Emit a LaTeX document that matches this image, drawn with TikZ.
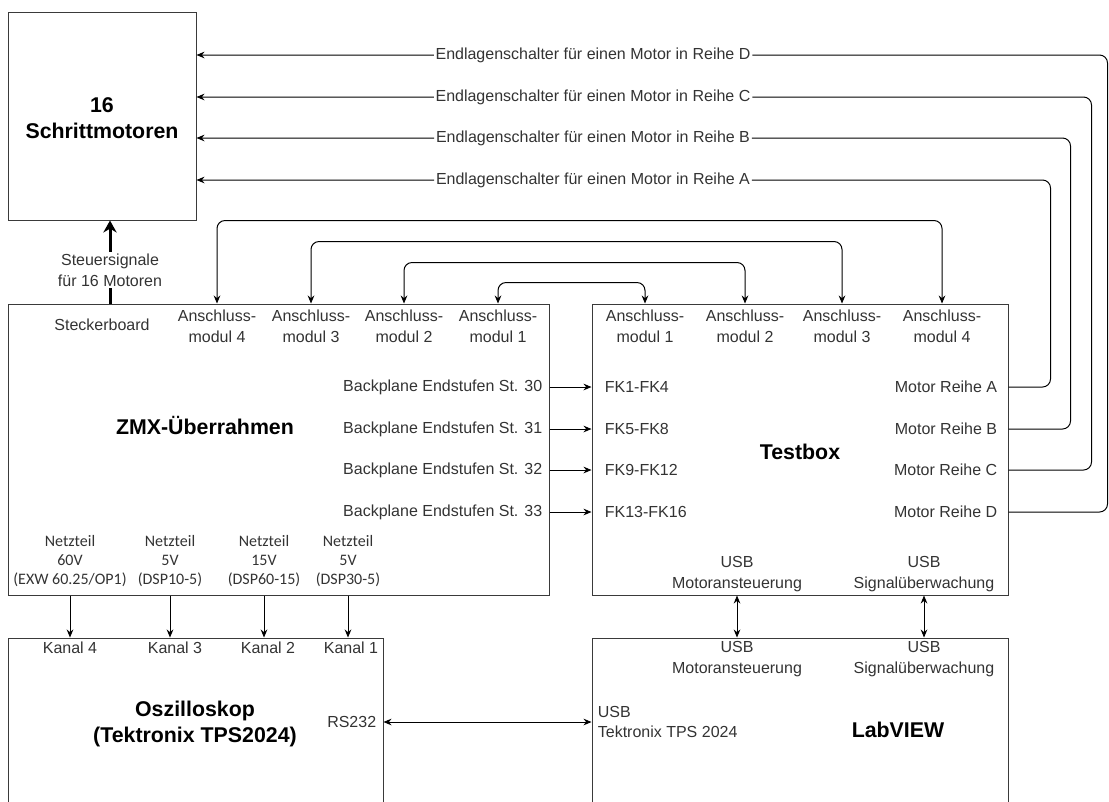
\documentclass[tikz,border=0pt]{standalone}
\usepackage{fontspec}
\setmainfont{Liberation Sans}
\newfontfamily\calibri{Carlito}
\usetikzlibrary{arrows.meta,fit}
\definecolor{txt}{HTML}{333333}
\definecolor{frame}{HTML}{3A3A3A}

\begin{document}
\begin{tikzpicture}[x=0.75pt, y=-0.75pt, >={Stealth[length=6pt,width=5pt]}, line width=0.75pt,
    box/.style={draw=frame, inner sep=0pt},
    lbl/.style={font=\fontsize{12}{15.5}\selectfont, text=txt, inner sep=1pt, align=center},
    nlbl/.style={font=\calibri\fontsize{12}{14.3}\selectfont, text=txt, inner sep=1pt, align=center},
    title/.style={font=\fontsize{16}{19.5}\selectfont\bfseries, inner sep=1pt, align=center},
    conn/.style={draw=black, rounded corners=6pt},
    thickarr/.style={draw=black, line width=2.25pt, -{Stealth[length=9pt,width=10pt]}}]
\clip (0,0) rectangle (1109,801);

% boxes
\node[box, fit={(8,12) (196,220)}] (sm) {};
\node[box, fit={(8,304) (549,595)}] (zmx) {};
\node[box, fit={(592,304) (1008,595)}] (tb) {};
\node[box, fit={(8,638) (383,840)}] (osz) {};
\node[box, fit={(592,638) (1008,840)}] (lv) {};

% titles
\node[title] (smt) at (102,118) {16\\Schrittmotoren};
\node[title] (zmxt) at (205,425) {ZMX-Überrahmen};
\node[title] (tbt) at (800,452) {Testbox};
\node[title] (oszt) at (195,724) {Oszilloskop\\(Tektronix TPS2024)};
\node[title] (lvt) at (898,730) {LabVIEW};

% ZMX labels
\node[lbl] (st) at (110,270) {Steuersignale\\für 16 Motoren};
\node[lbl] (skb) at (102,325) {Steckerboard};
\node[lbl] (zm4) at (217,326) {Anschluss-\\modul 4};
\node[lbl] (zm3) at (311,326) {Anschluss-\\modul 3};
\node[lbl] (zm2) at (404,326) {Anschluss-\\modul 2};
\node[lbl] (zm1) at (498,326) {Anschluss-\\modul 1};
\node[lbl, anchor=east] (bp30) at (544,387) {Backplane Endstufen St. 30};
\node[lbl, anchor=east] (bp31) at (544,429) {Backplane Endstufen St. 31};
\node[lbl, anchor=east] (bp32) at (544,470) {Backplane Endstufen St. 32};
\node[lbl, anchor=east] (bp33) at (544,512) {Backplane Endstufen St. 33};
\node[nlbl] (nt1) at (70,561) {Netzteil\\60V\\(EXW 60.25/OP1)};
\node[nlbl] (nt2) at (170,561) {Netzteil\\5V\\(DSP10-5)};
\node[nlbl] (nt3) at (264,561) {Netzteil\\15V\\(DSP60-15)};
\node[nlbl] (nt4) at (348,561) {Netzteil\\5V\\(DSP30-5)};

% Testbox labels
\node[lbl] (tm1) at (645,326) {Anschluss-\\modul 1};
\node[lbl] (tm2) at (745,326) {Anschluss-\\modul 2};
\node[lbl] (tm3) at (842,326) {Anschluss-\\modul 3};
\node[lbl] (tm4) at (942,326) {Anschluss-\\modul 4};
\node[lbl, anchor=west] (fk1) at (603,387) {FK1-FK4};
\node[lbl, anchor=west] (fk2) at (603,429) {FK5-FK8};
\node[lbl, anchor=west] (fk3) at (603,470) {FK9-FK12};
\node[lbl, anchor=west] (fk4) at (603,512) {FK13-FK16};
\node[lbl, anchor=east] (mA) at (999,387) {Motor Reihe A};
\node[lbl, anchor=east] (mB) at (999,429) {Motor Reihe B};
\node[lbl, anchor=east] (mC) at (999,470) {Motor Reihe C};
\node[lbl, anchor=east] (mD) at (999,512) {Motor Reihe D};
\node[lbl] (tu1) at (737,574) {USB\\Motoransteuerung};
\node[lbl] (tu2) at (924,574) {USB\\Signalüberwachung};

% Oszilloskop and LabVIEW labels
\node[lbl] (k4) at (70,648) {Kanal 4};
\node[lbl] (k3) at (175,648) {Kanal 3};
\node[lbl] (k2) at (268,648) {Kanal 2};
\node[lbl] (k1) at (351,648) {Kanal 1};
\node[lbl, anchor=east] (rs) at (378,722) {RS232};
\node[lbl] (lu1) at (737,659) {USB\\Motoransteuerung};
\node[lbl] (lu2) at (924,659) {USB\\Signalüberwachung};
\node[lbl, anchor=west, align=left] (ut) at (596,722) {USB\\Tektronix TPS 2024};

% Endlagenschalter labels
\node[lbl] (eA) at (593,180) {Endlagenschalter für einen Motor in Reihe A};
\node[lbl] (eB) at (593,138) {Endlagenschalter für einen Motor in Reihe B};
\node[lbl] (eC) at (593,97) {Endlagenschalter für einen Motor in Reihe C};
\node[lbl] (eD) at (593,55) {Endlagenschalter für einen Motor in Reihe D};

% connectors
\draw[thickarr] (zmx.north -| st) -- (st) -- (sm.south -| st);

\draw[conn, <->] (zmx.north -| zm1) -- ++(0,-21) -| (tb.north -| tm1);
\draw[conn, <->] (zmx.north -| zm2) -- ++(0,-41) -| (tb.north -| tm2);
\draw[conn, <->] (zmx.north -| zm3) -- ++(0,-62) -| (tb.north -| tm3);
\draw[conn, <->] (zmx.north -| zm4) -- ++(0,-83) -| (tb.north -| tm4);

\draw[conn, ->] (zmx.east |- bp30) -- (tb.west |- bp30);
\draw[conn, ->] (zmx.east |- bp31) -- (tb.west |- bp31);
\draw[conn, ->] (zmx.east |- bp32) -- (tb.west |- bp32);
\draw[conn, ->] (zmx.east |- bp33) -- (tb.west |- bp33);

\draw[conn, ->] (tb.east |- mA) -- ++(42,0) |- (eA) -- (sm.east |- eA);
\draw[conn, ->] (tb.east |- mB) -- ++(62,0) |- (eB) -- (sm.east |- eB);
\draw[conn, ->] (tb.east |- mC) -- ++(83,0) |- (eC) -- (sm.east |- eC);
\draw[conn, ->] (tb.east |- mD) -- ++(99,0) |- (eD) -- (sm.east |- eD);

\draw[conn, ->] (zmx.south -| nt1) -- (osz.north -| nt1);
\draw[conn, ->] (zmx.south -| nt2) -- (osz.north -| nt2);
\draw[conn, ->] (zmx.south -| nt3) -- (osz.north -| nt3);
\draw[conn, ->] (zmx.south -| nt4) -- (osz.north -| nt4);

\draw[conn, <->] (tb.south -| tu1) -- (lv.north -| tu1);
\draw[conn, <->] (tb.south -| tu2) -- (lv.north -| tu2);
\draw[conn, <->] (osz.east |- rs) -- (lv.west |- rs);
\end{tikzpicture}
\end{document}
